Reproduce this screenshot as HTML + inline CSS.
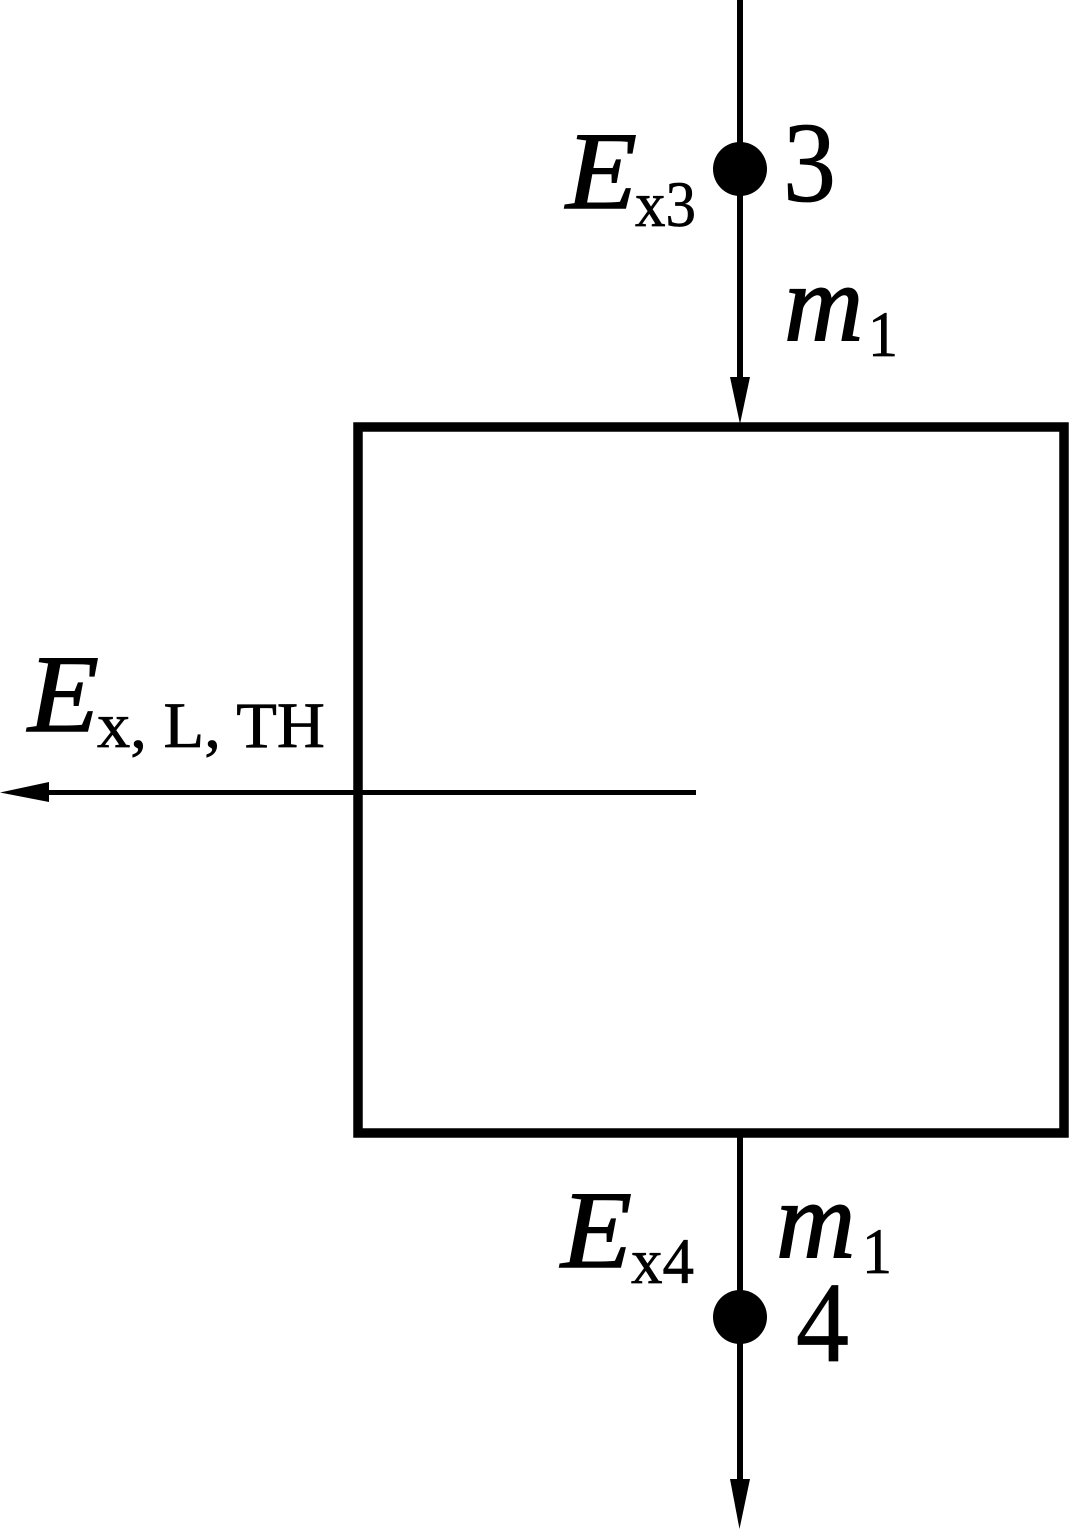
<!DOCTYPE html>
<html>
<head>
<meta charset="utf-8">
<style>
html,body{margin:0;padding:0;background:#fff;width:1069px;height:1529px;overflow:hidden}
svg{display:block}
text{font-family:"Liberation Serif",serif;fill:#000;stroke:#000}
.i{font-style:italic;font-size:110px;stroke-width:1.4px}
.s{font-size:65px;stroke-width:.7px}
.n{font-size:114px;stroke-width:.8px}
</style>
</head>
<body>
<svg width="1069" height="1529" viewBox="0 0 1069 1529" xmlns="http://www.w3.org/2000/svg">
<rect x="358" y="427" width="706" height="706" fill="none" stroke="#000" stroke-width="9.5"/>
<line x1="740" y1="0" x2="740" y2="385" stroke="#000" stroke-width="6"/>
<polygon points="730,377 750,377 740,424" fill="#000"/>
<circle cx="740" cy="169" r="27" fill="#000"/>
<line x1="740" y1="1133" x2="740" y2="1485" stroke="#000" stroke-width="6"/>
<polygon points="730,1479 750,1479 739.500,1529" fill="#000"/>
<circle cx="740" cy="1317" r="27" fill="#000"/>
<line x1="40" y1="792.500" x2="696" y2="792.500" stroke="#000" stroke-width="5"/>
<polygon points="49,782 49,802 0,792.500" fill="#000"/>
<text class="i" x="566" y="208" textLength="71" lengthAdjust="spacingAndGlyphs">E</text>
<text class="s" x="635" y="226" textLength="61" lengthAdjust="spacingAndGlyphs">x3</text>
<text class="n" x="783" y="201" textLength="53" lengthAdjust="spacingAndGlyphs">3</text>
<text class="i" x="784" y="340">m</text>
<text class="s" x="868" y="356" textLength="30" lengthAdjust="spacingAndGlyphs">1</text>
<text class="i" x="28" y="731" textLength="71" lengthAdjust="spacingAndGlyphs">E</text>
<text class="s" x="97" y="747" textLength="228" lengthAdjust="spacingAndGlyphs">x, L, TH</text>
<text class="i" x="561" y="1267" textLength="71" lengthAdjust="spacingAndGlyphs">E</text>
<text class="s" x="631" y="1283" textLength="63" lengthAdjust="spacingAndGlyphs">x4</text>
<text class="i" x="776" y="1257">m</text>
<text class="s" x="862" y="1273" textLength="30" lengthAdjust="spacingAndGlyphs">1</text>
<text class="n" x="796" y="1361" textLength="53" lengthAdjust="spacingAndGlyphs">4</text>
</svg>
</body>
</html>
